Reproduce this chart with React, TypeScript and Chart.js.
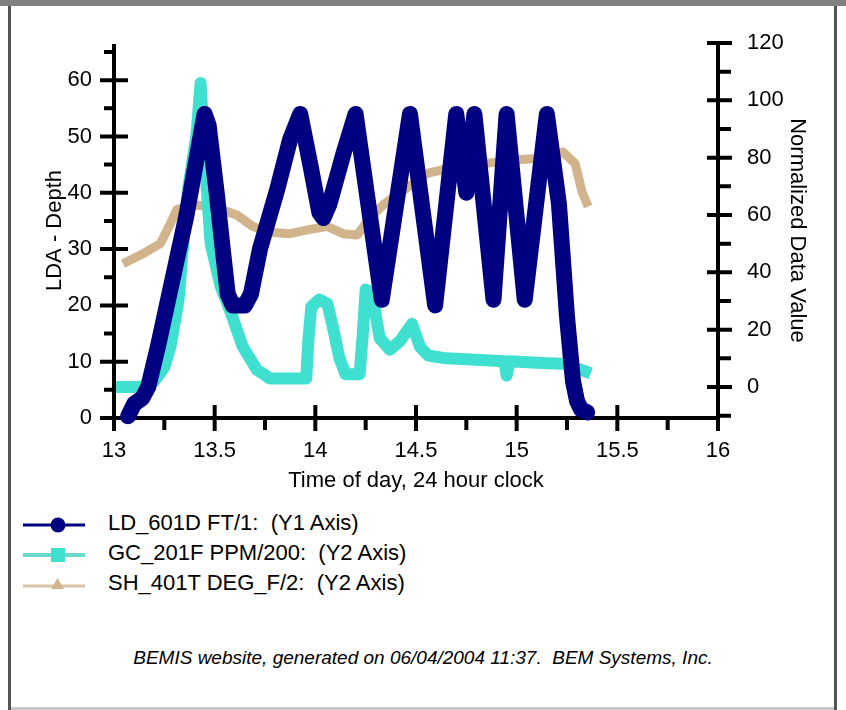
import React, { useEffect, useRef } from 'react';
import { Chart, registerables } from 'chart.js';

Chart.register(...registerables);

// ---------- data ----------
const seriesLabels = [
  'LD_601D FT/1:  (Y1 Axis)',
  'GC_201F PPM/200:  (Y2 Axis)',
  'SH_401T DEG_F/2:  (Y2 Axis)',
];
const seriesColors = ['#000080', '#40E0D0', '#D2B48C'];

const ldTime = [13.07, 13.1, 13.14, 13.17, 13.22, 13.29, 13.36, 13.41, 13.45, 13.47, 13.51, 13.54, 13.565, 13.59, 13.65, 13.68, 13.725, 13.81, 13.875, 13.925, 13.975, 14.02, 14.04, 14.07, 14.14, 14.2, 14.33, 14.47, 14.595, 14.7, 14.75, 14.79, 14.885, 14.95, 15.04, 15.15, 15.21, 15.25, 15.28, 15.3, 15.32, 15.35];
const ldValue = [0.3, 2.5, 3.5, 5.5, 13, 24.5, 36, 46, 54, 52, 40, 30, 22, 20, 20, 22, 30, 40.5, 49.5, 54, 45, 36.5, 35.5, 38, 47, 54, 21, 54, 20, 54, 40, 54, 21, 54, 21, 54, 38, 18, 6.5, 3, 1.5, 1];

const gcTime = [13.04, 13.13, 13.2, 13.25, 13.28, 13.32, 13.35, 13.37, 13.41, 13.43, 13.45, 13.48, 13.53, 13.58, 13.64, 13.71, 13.775, 13.955, 13.965, 13.98, 14.02, 14.06, 14.09, 14.12, 14.15, 14.22, 14.235, 14.25, 14.28, 14.32, 14.37, 14.42, 14.48, 14.52, 14.56, 14.65, 14.8, 14.94, 14.95, 14.965, 15.1, 15.25, 15.3, 15.34];
const gcValue = [0, 0, 2, 7, 14, 30, 55, 70, 88, 106, 80, 50, 35, 26, 14, 6, 3, 3, 16, 28, 30.5, 29, 20, 10, 4.5, 4.5, 18, 34, 33, 17, 13, 16, 22, 14, 11, 10, 9.5, 9, 4, 9, 8.5, 8, 6.5, 5.5];

const shTime = [13.045, 13.144, 13.23, 13.28, 13.313, 13.41, 13.51, 13.61, 13.69, 13.775, 13.874, 13.974, 14.058, 14.138, 14.207, 14.272, 14.336, 14.456, 14.555, 14.704, 14.853, 14.952, 15.151, 15.23, 15.29, 15.325, 15.355];
const shValue = [43, 46.5, 50, 57, 62, 63.5, 62.5, 60, 56, 54, 53.5, 55, 56, 53.5, 53, 59, 63.5, 69.5, 74.5, 77, 78, 79, 80, 82, 78, 68, 63];

const xRange = [13, 16];
const xStep = 0.5;
const y1Range = [0, 66.6];
const y1Step = 10;
const y2Range = [-10.8, 120];
const y2Step = 20;

const xTitle = 'Time of day, 24 hour clock';
const y1Title = 'LDA - Depth';
const y2Title = 'Normalized Data Value';
const footerText = 'BEMIS website, generated on 06/04/2004 11:37.  BEM Systems, Inc.';

// ---------- helpers ----------
const FONT = "'Liberation Sans', Arial, Helvetica, sans-serif";
const toPoints = (t: number[], v: number[]) => t.map((x, i) => ({ x, y: v[i] }));

function minorValues(scale: any, step: number): number[] {
  const out: number[] = [];
  const ticks = scale.ticks.map((t: any) => t.value);
  if (!ticks.length) return out;
  const first = ticks[0] - step / 2;
  for (let v = first; v <= scale.max + 1e-9; v += step) {
    if (v >= scale.min - 1e-9 && v <= scale.max + 1e-9) {
      const isMajor = ticks.some((m: number) => Math.abs(m - v) < 1e-6);
      if (!isMajor) out.push(v);
    }
  }
  return out;
}

const axesPlugin = {
  id: 'classicAxes',
  beforeDatasetsDraw(chart: any) {
    const { ctx, chartArea } = chart;
    const { left, right, top, bottom } = chartArea;
    const xs = chart.scales.x;
    const ys = chart.scales.y;
    const y2 = chart.scales.y2;
    ctx.save();
    ctx.strokeStyle = '#000';
    ctx.lineWidth = 4;
    ctx.lineCap = 'butt';
    ctx.beginPath();
    ctx.moveTo(left, top + 1);
    ctx.lineTo(left, bottom + 4);
    ctx.moveTo(left - 2, bottom);
    ctx.lineTo(right + 2, bottom);
    ctx.moveTo(right, top);
    ctx.lineTo(right, bottom + 4);
    xs.ticks.forEach((t: any) => {
      const p = xs.getPixelForValue(t.value);
      ctx.moveTo(p, bottom - 13);
      ctx.lineTo(p, bottom + 13);
    });
    minorValues(xs, xStep).forEach((v) => {
      const p = xs.getPixelForValue(v);
      ctx.moveTo(p, bottom);
      ctx.lineTo(p, bottom + 12);
    });
    ys.ticks.forEach((t: any) => {
      const p = ys.getPixelForValue(t.value);
      ctx.moveTo(left - 14, p);
      ctx.lineTo(left + 14, p);
    });
    minorValues(ys, y1Step).forEach((v) => {
      const p = ys.getPixelForValue(v);
      ctx.moveTo(left - 10, p);
      ctx.lineTo(left, p);
    });
    y2.ticks.forEach((t: any) => {
      const p = y2.getPixelForValue(t.value);
      ctx.moveTo(right - 11, p);
      ctx.lineTo(right + 14, p);
    });
    minorValues(y2, y2Step).forEach((v) => {
      const p = y2.getPixelForValue(v);
      ctx.moveTo(right, p);
      ctx.lineTo(right + 13, p);
    });
    ctx.stroke();
    ctx.restore();
  },
};

const CANVAS_W = 846;
const CANVAS_H = 500;
const AREA = { left: 114, right: 718, top: 43, bottom: 418 };

function LegendIcon({ index }: { index: number }) {
  const Y = 17;
  if (index === 0) {
    return (
      <svg width={70} height={30} style={{ position: 'absolute', left: 20, top: 0 }}>
        <line x1={3} y1={Y} x2={65} y2={Y} stroke="#000080" strokeWidth={3} />
        <circle cx={38} cy={Y} r={7.5} fill="#000080" />
      </svg>
    );
  }
  if (index === 1) {
    return (
      <svg width={70} height={30} style={{ position: 'absolute', left: 20, top: 0 }}>
        <line x1={3} y1={Y} x2={65} y2={Y} stroke="#6bd8cd" strokeWidth={4} />
        <rect x={31} y={Y - 7} width={14} height={14} fill="#40E0D0" />
      </svg>
    );
  }
  return (
    <svg width={70} height={30} style={{ position: 'absolute', left: 20, top: 0 }}>
      <line x1={3} y1={Y + 1} x2={65} y2={Y + 1} stroke="#d8c4a6" strokeWidth={3} />
      <polygon points={`${31},${Y + 4} ${44},${Y + 4} ${37.5},${Y - 7}`} fill="#D2B48C" />
    </svg>
  );
}

export default function App() {
  const canvasRef = useRef<HTMLCanvasElement | null>(null);

  useEffect(() => {
    if (!canvasRef.current) return;
    const chart = new Chart(canvasRef.current, {
      type: 'line',
      data: {
        datasets: [
          {
            label: seriesLabels[0],
            data: toPoints(ldTime, ldValue),
            yAxisID: 'y',
            borderColor: seriesColors[0],
            backgroundColor: seriesColors[0],
            borderWidth: 16,
            borderJoinStyle: 'round',
            borderCapStyle: 'round',
            pointRadius: 0,
            tension: 0,
            fill: false,
            clip: false as any,
          },
          {
            label: seriesLabels[1],
            data: toPoints(gcTime, gcValue),
            yAxisID: 'y2',
            borderColor: seriesColors[1],
            backgroundColor: seriesColors[1],
            borderWidth: 12,
            borderJoinStyle: 'round',
            borderCapStyle: 'square',
            pointRadius: 0,
            tension: 0,
            fill: false,
            clip: false as any,
          },
          {
            label: seriesLabels[2],
            data: toPoints(shTime, shValue),
            yAxisID: 'y2',
            borderColor: seriesColors[2],
            backgroundColor: seriesColors[2],
            borderWidth: 9,
            borderJoinStyle: 'round',
            pointRadius: 0,
            tension: 0,
            fill: false,
            clip: false as any,
          },
        ],
      },
      options: {
        responsive: false,
        animation: false,
        devicePixelRatio: 1,
        layout: { padding: { top: AREA.top, left: 0, right: 0, bottom: 0 } },
        plugins: {
          legend: { display: false },
          tooltip: { enabled: false },
          title: { display: false },
        },
        scales: {
          x: {
            type: 'linear',
            position: 'bottom',
            min: xRange[0],
            max: xRange[1],
            grid: { display: false, drawTicks: false },
            border: { display: false },
            ticks: {
              stepSize: xStep,
              autoSkip: false,
              maxRotation: 0,
              padding: 20,
              color: '#000',
              font: { family: FONT, size: 22 },
              callback: (v: any) => String(v),
            },
            title: {
              display: true,
              text: xTitle,
              color: '#000',
              font: { family: FONT, size: 22 },
              padding: { top: 0, bottom: 6 },
            },
            afterFit: (s: any) => {
              s.height = CANVAS_H - AREA.bottom;
            },
          },
          y: {
            type: 'linear',
            position: 'left',
            min: y1Range[0],
            max: y1Range[1],
            grid: { display: false, drawTicks: false },
            border: { display: false },
            ticks: {
              stepSize: y1Step,
              includeBounds: false,
              autoSkip: false,
              padding: 22,
              color: '#000',
              font: { family: FONT, size: 22 },
              callback: (v: any) => String(v),
            },
            title: {
              display: true,
              text: y1Title,
              color: '#000',
              font: { family: FONT, size: 22 },
              padding: { top: 42, bottom: 0 },
            },
            afterFit: (s: any) => {
              s.width = AREA.left;
            },
          },
          y2: {
            type: 'linear',
            position: 'right',
            min: y2Range[0],
            max: y2Range[1],
            grid: { display: false, drawTicks: false },
            border: { display: false },
            ticks: {
              stepSize: y2Step,
              includeBounds: false,
              autoSkip: false,
              padding: 29,
              color: '#000',
              font: { family: FONT, size: 22 },
              callback: (v: any) => String(v),
            },
            title: {
              display: true,
              text: y2Title,
              color: '#000',
              font: { family: FONT, size: 22 },
              padding: { top: 36, bottom: 0 },
            },
            afterFit: (s: any) => {
              s.width = CANVAS_W - AREA.right;
            },
          },
        },
      },
      plugins: [axesPlugin],
    });
    return () => chart.destroy();
  }, []);

  return (
    <div
      style={{
        position: 'fixed',
        left: 0,
        top: 0,
        width: 846,
        height: 710,
        background: '#fff',
        overflow: 'hidden',
        fontFamily: FONT,
      }}
    >
      <canvas
        ref={canvasRef}
        width={CANVAS_W}
        height={CANVAS_H}
        style={{ position: 'absolute', left: 0, top: 0, width: CANVAS_W, height: CANVAS_H }}
      />
      {seriesLabels.map((label, i) => (
        <div
          key={label}
          style={{ position: 'absolute', left: 0, top: 508 + i * 30, width: 500, height: 30 }}
        >
          <LegendIcon index={i} />
          <div
            style={{
              position: 'absolute',
              left: 108,
              top: 0,
              fontSize: 22,
              lineHeight: '30px',
              color: '#000',
              whiteSpace: 'pre',
            }}
          >
            {label}
          </div>
        </div>
      ))}
      <div
        style={{
          position: 'absolute',
          left: 0,
          top: 646,
          width: 846,
          textAlign: 'center',
          fontSize: 19,
          lineHeight: '24px',
          fontStyle: 'italic',
          color: '#000',
          whiteSpace: 'pre',
        }}
      >
        {footerText}
      </div>
      {/* window frame */}
      <div style={{ position: 'absolute', left: 0, top: 0, width: 846, height: 6, background: '#808080' }} />
      <div style={{ position: 'absolute', left: 8, top: 6, width: 3, height: 704, background: '#555' }} />
      <div style={{ position: 'absolute', left: 834, top: 6, width: 3, height: 704, background: '#555' }} />
      <div style={{ position: 'absolute', left: 11, top: 707, width: 823, height: 3, background: '#c8c8c8' }} />
    </div>
  );
}
